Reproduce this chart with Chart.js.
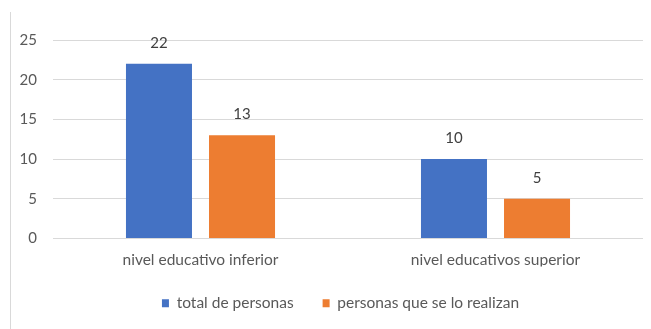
<!DOCTYPE html>
<html lang="es">
<head>
    <meta charset="UTF-8">
    <title>Nivel educativo</title>
    <script src="https://cdn.jsdelivr.net/npm/chart.js"></script>
    <style>
        * { margin: 0; padding: 0; box-sizing: border-box; }
        body { background: #fff; width: 651px; height: 329px; overflow: hidden; position: relative; }
        .frame-line { position: absolute; left: 10px; top: 12px; width: 1px; height: 317px; background: #d9d9d9; }
        .chart-box { position: absolute; left: 0; top: 0; width: 651px; height: 329px; }
    </style>
</head>
<body>
    <div class="frame-line"></div>
    <div class="chart-box">
        <canvas id="eduChart"></canvas>
    </div>

    <script>
        const categories = ['nivel educativo inferior', 'nivel educativos superior'];
        const seriesNames = ['total de personas', 'personas que se lo realizan'];
        const totalPersonas = [22, 10];
        const personasRealizan = [13, 5];
        const yTicks = [0, 5, 10, 15, 20, 25];

        const textColor = '#595959';
        const fontFamily = 'Lato, "Liberation Sans", sans-serif';

        // draws the value above every bar
        const valueLabels = {
            id: 'valueLabels',
            afterDatasetsDraw(chart) {
                const ctx = chart.ctx;
                ctx.save();
                ctx.font = '15px ' + fontFamily;
                ctx.fillStyle = '#404040';
                ctx.textAlign = 'center';
                ctx.textBaseline = 'middle';
                chart.data.datasets.forEach((ds, i) => {
                    chart.getDatasetMeta(i).data.forEach((bar, j) => {
                        ctx.fillText(ds.data[j], bar.x, bar.y - 21);
                    });
                });
                ctx.restore();
            }
        };

        // excel puts the legend a bit right of centre
        const legendShift = {
            id: 'legendShift',
            afterLayout(chart) {
                chart.legend.left += 19;
                chart.legend.right += 19;
            }
        };

        const ctx = document.getElementById('eduChart').getContext('2d');
        new Chart(ctx, {
            type: 'bar',
            data: {
                labels: categories,
                datasets: [{
                    label: seriesNames[0],
                    data: totalPersonas,
                    backgroundColor: '#4472C4',
                    barPercentage: 0.795,
                    categoryPercentage: 0.563
                }, {
                    label: seriesNames[1],
                    data: personasRealizan,
                    backgroundColor: '#ED7D31',
                    barPercentage: 0.795,
                    categoryPercentage: 0.563
                }]
            },
            options: {
                responsive: true,
                maintainAspectRatio: false,
                animation: false,
                layout: { padding: { top: 40, right: 8, bottom: 8, left: 0 } },
                scales: {
                    x: {
                        grid: { display: false },
                        border: { display: false },
                        ticks: { color: textColor, font: { family: fontFamily, size: 15.5 }, padding: 4 },
                        afterFit(scale) { scale.height = 28; }
                    },
                    y: {
                        min: 0,
                        max: 25,
                        afterBuildTicks(scale) { scale.ticks = yTicks.map(v => ({ value: v })); },
                        grid: { color: '#d9d9d9', drawTicks: false },
                        border: { display: false },
                        ticks: { color: textColor, font: { family: fontFamily, size: 15 }, padding: 16 },
                        afterFit(scale) { scale.width = 53; }
                    }
                },
                plugins: {
                    legend: {
                        position: 'bottom',
                        labels: {
                            color: textColor,
                            font: { family: fontFamily, size: 15.5 },
                            boxWidth: 7,
                            boxHeight: 8,
                            padding: 29
                        }
                    },
                    tooltip: { enabled: false }
                }
            },
            plugins: [valueLabels, legendShift]
        });
    </script>
</body>
</html>
